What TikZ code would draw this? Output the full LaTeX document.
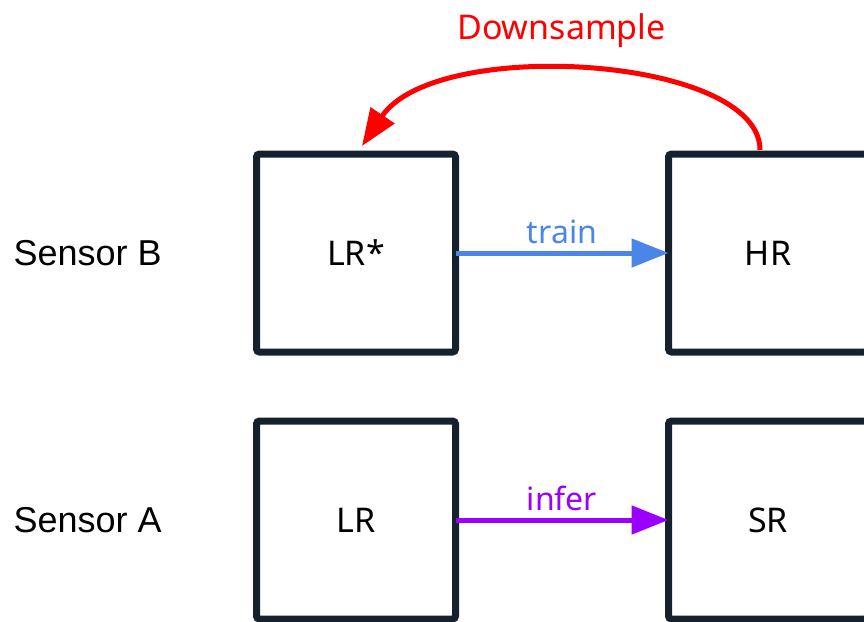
\documentclass[tikz,border=0pt]{standalone}
\usepackage{fontspec}
\setmainfont{Noto Sans}
\newfontfamily\arialfont{Liberation Sans}
\usetikzlibrary{arrows.meta,calc}
\definecolor{boxline}{HTML}{15222E}
\definecolor{trainblue}{HTML}{4A86E8}
\definecolor{inferpurple}{HTML}{9900FF}
\definecolor{downred}{HTML}{FF0000}

\begin{document}
\begin{tikzpicture}[x=1pt,y=-1pt,
    img/.style={draw=boxline, line width=7pt, rounded corners=3pt,
      minimum width=199pt, minimum height=198pt, outer sep=0pt,
      font=\fontsize{34}{40}\selectfont},
    flow/.style={line width=5pt, -{Triangle[length=37pt,width=28pt]}},
    flowlabel/.style={font=\fontsize{32}{38}\selectfont},
    sensor/.style={anchor=west, font=\arialfont\fontsize{36}{42}\selectfont}]
  \path[use as bounding box, clip] (0,0) rectangle (864,621);
  % sensor B: downsampled pair
  \node[img] (lrstar) at (356,253) {LR*};
  \node[img] (hr) at (768,253) {HR};
  % sensor A: real low-res input
  \node[img] (lr) at (356,520) {LR};
  \node[img] (sr) at (768,520) {SR};
  \node[sensor] (sensorb) at (10,253) {Sensor B};
  \node[sensor] (sensora) at (10,520) {Sensor A};
  % arrows
  \draw[flow, trainblue] (lrstar.east) -- node[flowlabel, above=3pt] {train} (hr.west);
  \draw[flow, inferpurple] (lr.east) -- node[flowlabel, above=3pt] {infer} (sr.west);
  \coordinate (dsstart) at ($(hr.north)+(-8,-4)$);
  \coordinate (dsend) at ($(lrstar.north)+(6,-8)$);
  \draw[flow, downred] (dsstart) .. controls +(0,-94) and +(74,-110) ..
    node[pos=0.55, flowlabel, font=\fontsize{34}{40}\selectfont, above=18pt] {Downsample} (dsend);
\end{tikzpicture}
\end{document}
